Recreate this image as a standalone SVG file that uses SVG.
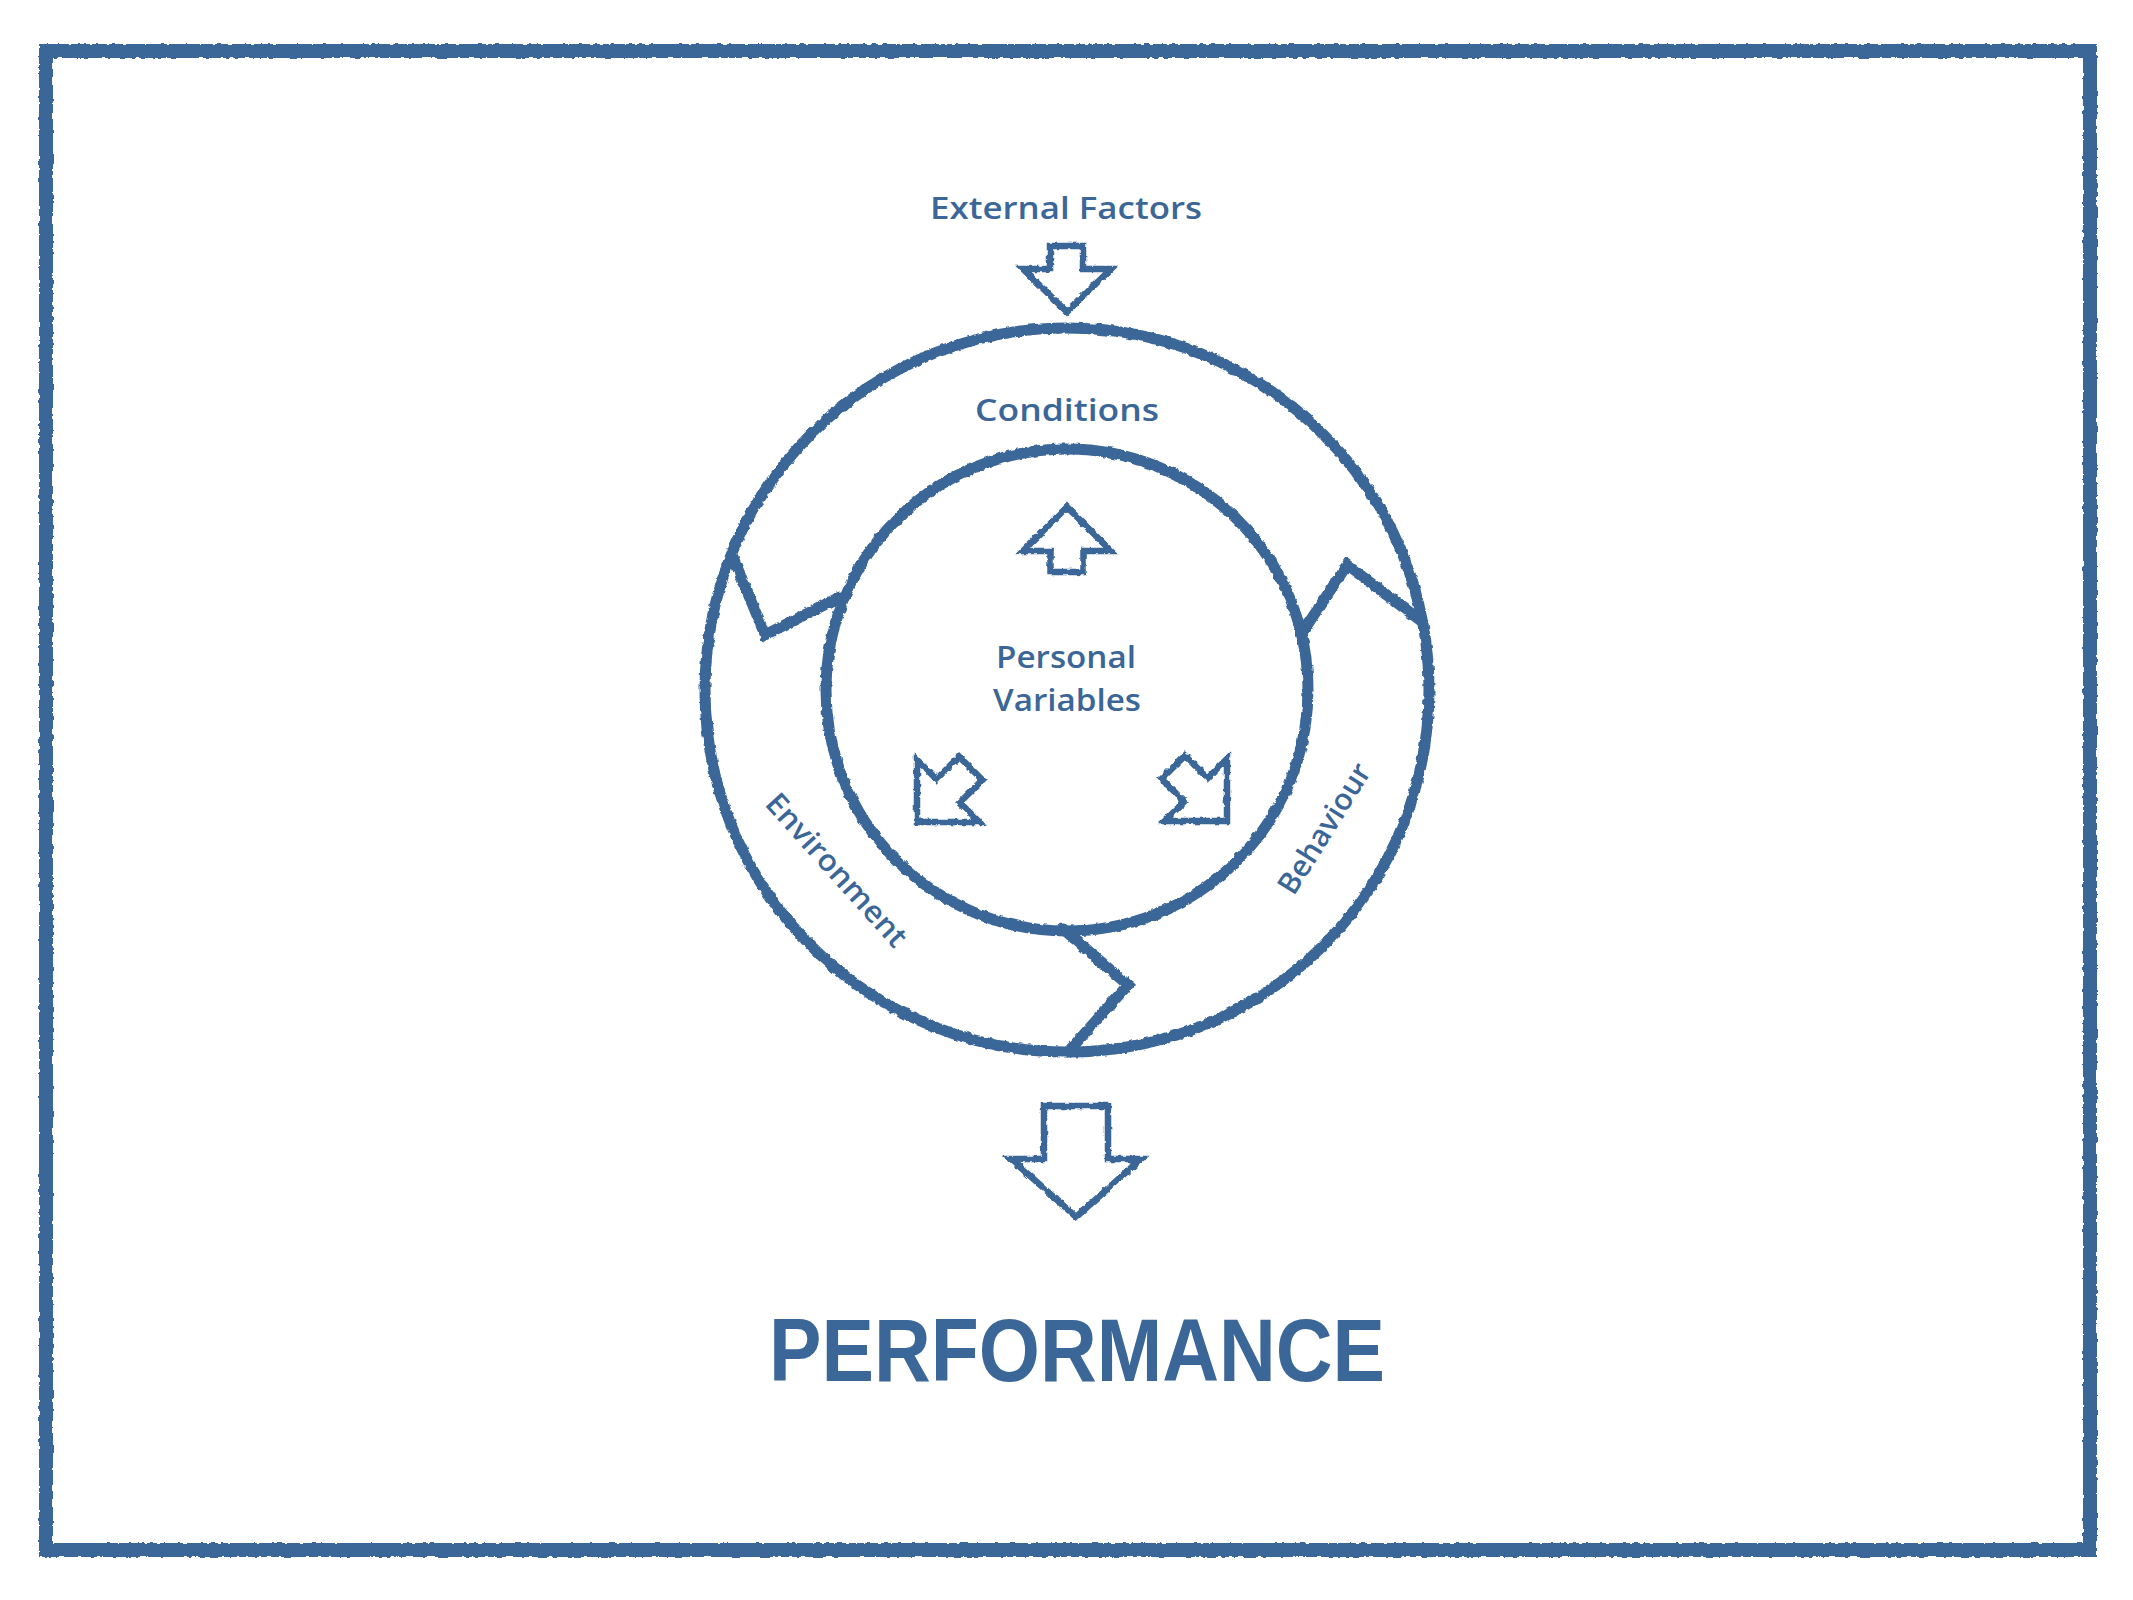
<svg xmlns="http://www.w3.org/2000/svg" xmlns:xlink="http://www.w3.org/1999/xlink" width="2133" height="1600" viewBox="0 0 2133 1600">
  <defs>
    <filter id="rough" filterUnits="userSpaceOnUse" x="0" y="0" width="2133" height="1600">
      <feTurbulence type="fractalNoise" baseFrequency="0.18" numOctaves="2" seed="4" result="n"/>
      <feDisplacementMap in="SourceGraphic" in2="n" scale="4" xChannelSelector="R" yChannelSelector="G"/>
    </filter>
    <path id="arrowShape" d="M0,0 L44,44 L16.5,44 L16.5,65 L-16.5,65 L-16.5,44 L-44,44 Z"/>
    <path id="arrowShapeLong" d="M0,0 L44,44 L16.5,44 L16.5,76 L-16.5,76 L-16.5,44 L-44,44 Z"/>
  </defs>
  <style>
    .ink { fill: none; stroke: #3b6698; stroke-linejoin: miter; stroke-linecap: round; }
    .thick { stroke-width: 11; }
    .border { stroke-width: 14; }
    .arrow { stroke-width: 6.5; }
    .lbl { fill: #3b6698; font-family: "Open Sans", "Liberation Sans", sans-serif; font-weight: 600; font-size: 30px; text-anchor: middle; }
    .big { fill: #3b6698; font-family: "Liberation Sans", "Open Sans", sans-serif; font-weight: bold; font-size: 89px; text-anchor: middle; }
  </style>
  <rect width="2133" height="1600" fill="#ffffff"/>

  <g filter="url(#rough)">
    <g id="frame">
      <rect class="ink border" x="46" y="51" width="2044" height="1499"/>
    </g>

    <g id="ring">
      <circle class="ink thick" cx="1067" cy="690" r="362"/>
      <circle class="ink thick" cx="1067" cy="690" r="241"/>
    </g>

    <g id="connectors">
      <polyline class="ink thick" points="733,557 765,635 840,597"/>
      <polyline class="ink thick" points="1302,633 1347,565 1420,620"/>
      <polyline class="ink thick" points="1062,928 1128,985 1068,1052"/>
    </g>

    <g id="arrow-external">
      <polygon class="ink arrow" points="1067,312 1111,269 1083,269 1083,246 1050,246 1050,269 1023,269"/>
    </g>
    <g id="arrow-conditions">
      <use href="#arrowShape" xlink:href="#arrowShape" class="ink arrow" transform="translate(1067,507)"/>
    </g>
    <g id="arrow-environment">
      <use href="#arrowShapeLong" xlink:href="#arrowShapeLong" class="ink arrow" transform="translate(917,822) rotate(-135)"/>
    </g>
    <g id="arrow-behaviour">
      <use href="#arrowShapeLong" xlink:href="#arrowShapeLong" class="ink arrow" transform="translate(1227,821) rotate(135)"/>
    </g>
    <g id="arrow-performance">
      <polygon class="ink arrow" points="1076,1217 1141,1159 1108,1159 1108,1106 1044,1106 1044,1159 1011,1159"/>
    </g>
  </g>

  <g id="label-external">
    <text class="lbl" x="1066" y="219" textLength="272" lengthAdjust="spacingAndGlyphs">External Factors</text>
  </g>
  <g id="label-conditions">
    <text class="lbl" x="1067" y="421" textLength="184" lengthAdjust="spacingAndGlyphs">Conditions</text>
  </g>
  <g id="label-personal">
    <text class="lbl" x="1066" y="668" textLength="140" lengthAdjust="spacingAndGlyphs">Personal</text>
    <text class="lbl" x="1067" y="711" textLength="148" lengthAdjust="spacingAndGlyphs">Variables</text>
  </g>
  <g id="label-environment">
    <text class="lbl" x="0" y="0" textLength="195" lengthAdjust="spacingAndGlyphs" transform="translate(829,877) rotate(48)">Environment</text>
  </g>
  <g id="label-behaviour">
    <text class="lbl" x="0" y="0" textLength="148" lengthAdjust="spacingAndGlyphs" transform="translate(1333,834) rotate(-58)">Behaviour</text>
  </g>
  <g id="label-performance">
    <text class="big" x="1077" y="1381" textLength="616" lengthAdjust="spacingAndGlyphs">PERFORMANCE</text>
  </g>
</svg>
